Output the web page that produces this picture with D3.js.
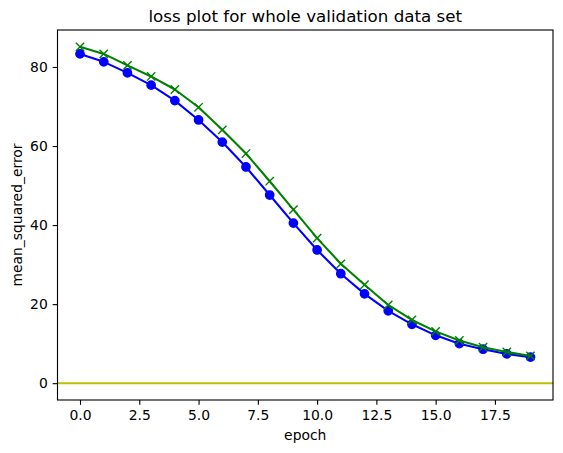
<!DOCTYPE html>
<html>
<head>
<meta charset="utf-8">
<script src="https://cdn.jsdelivr.net/npm/d3@7"></script>
<style>
  body { margin: 0; background: #fff; }
  svg { display: block; font-family: "DejaVu Sans", sans-serif; }
</style>
</head>
<body>
<div id="chart"></div>
<script>
'use strict';

// values
var epochs = d3.range(0, 20);
var blueLoss = [83.3, 81.3, 78.5, 75.4, 71.5, 66.6, 61.0, 54.7, 47.6, 40.5,
                33.7, 27.7, 22.6, 18.3, 14.9, 12.1, 10.0, 8.6, 7.4, 6.6];
var greenLoss = [85.1, 83.3, 80.4, 77.6, 74.3, 69.8, 64.1, 58.1, 51.1, 43.9,
                 36.7, 30.2, 24.9, 19.8, 16.0, 13.1, 10.8, 9.1, 7.9, 6.9];
var xTicks = [0, 2.5, 5, 7.5, 10, 12.5, 15, 17.5];
var yTicks = [0, 20, 40, 60, 80];
var hLineValue = 0;

var width = 563, height = 453;
var margin = {top: 30, right: 10, bottom: 53, left: 57.5};

var svg = d3.select("#chart").append("svg")
  .attr("width", width)
  .attr("height", height);

var plotW = width - margin.left - margin.right;
var plotH = height - margin.top - margin.bottom;

// matplotlib style 5% margins
var xExt = d3.extent(epochs);
var xPad = (xExt[1] - xExt[0]) * 0.05;
var yMin = Math.min(hLineValue, d3.min(blueLoss), d3.min(greenLoss));
var yMax = Math.max(d3.max(blueLoss), d3.max(greenLoss));
var yPad = (yMax - yMin) * 0.05;

var x = d3.scaleLinear()
  .domain([xExt[0] - xPad, xExt[1] + xPad])
  .range([0, plotW]);
var y = d3.scaleLinear()
  .domain([yMin - yPad, yMax + yPad])
  .range([plotH, 0]);

var g = svg.append("g")
  .attr("transform", "translate(" + margin.left + "," + margin.top + ")");

var defs = svg.append("defs");
defs.append("clipPath").attr("id", "clip")
  .append("rect").attr("width", plotW).attr("height", plotH);

var plot = g.append("g").attr("clip-path", "url(#clip)");

// blue series
var line = d3.line()
  .x(function(d, i) { return x(epochs[i]); })
  .y(function(d) { return y(d); });

plot.append("path")
  .datum(blueLoss)
  .attr("d", line)
  .attr("fill", "none")
  .attr("stroke", "#0000ff")
  .attr("stroke-width", 2.08)
  .attr("stroke-linejoin", "round");

plot.selectAll("circle.blue")
  .data(blueLoss)
  .enter().append("circle")
  .attr("class", "blue")
  .attr("cx", function(d, i) { return x(epochs[i]); })
  .attr("cy", function(d) { return y(d); })
  .attr("r", 4.17)
  .attr("fill", "#0000ff")
  .attr("stroke", "#0000ff")
  .attr("stroke-width", 1.39);

// green series
plot.append("path")
  .datum(greenLoss)
  .attr("d", line)
  .attr("fill", "none")
  .attr("stroke", "#008000")
  .attr("stroke-width", 2.08)
  .attr("stroke-linejoin", "round");

var s = 4.17;
plot.selectAll("path.xmark")
  .data(greenLoss)
  .enter().append("path")
  .attr("class", "xmark")
  .attr("transform", function(d, i) {
    return "translate(" + x(epochs[i]) + "," + y(d) + ")";
  })
  .attr("d", "M" + (-s) + "," + (-s) + "L" + s + "," + s +
             "M" + (-s) + "," + s + "L" + s + "," + (-s))
  .attr("stroke", "#008000")
  .attr("stroke-width", 1.39)
  .attr("fill", "none");

// horizontal line at zero
plot.append("line")
  .attr("x1", 0).attr("x2", plotW)
  .attr("y1", y(hLineValue)).attr("y2", y(hLineValue))
  .attr("stroke", "#bfbf00")
  .attr("stroke-width", 2.08);

// axes
var xAxis = d3.axisBottom(x)
  .tickValues(xTicks)
  .tickFormat(d3.format(".1f"))
  .tickSizeInner(4.86)
  .tickSizeOuter(0)
  .tickPadding(4.9);
var yAxis = d3.axisLeft(y)
  .tickValues(yTicks)
  .tickFormat(d3.format("d"))
  .tickSizeInner(4.86)
  .tickSizeOuter(0)
  .tickPadding(4.9);

var gx = g.append("g")
  .attr("transform", "translate(0," + plotH + ")")
  .call(xAxis);
var gy = g.append("g").call(yAxis);

[gx, gy].forEach(function(a) {
  a.select(".domain").remove();
  a.selectAll(".tick line").attr("stroke", "#000").attr("stroke-width", 1.11);
  a.selectAll(".tick text")
    .attr("fill", "#000")
    .style("font-size", "13.9px")
    .style("font-family", "'DejaVu Sans', sans-serif");
});

// frame
g.append("rect")
  .attr("width", plotW)
  .attr("height", plotH)
  .attr("fill", "none")
  .attr("stroke", "#000")
  .attr("stroke-width", 1.11);

// labels
g.append("text")
  .attr("x", plotW / 2)
  .attr("y", -8.3)
  .attr("text-anchor", "middle")
  .style("font-size", "16.7px")
  .text("loss plot for whole validation data set");

g.append("text")
  .attr("x", plotW / 2)
  .attr("y", plotH + 40)
  .attr("text-anchor", "middle")
  .style("font-size", "13.9px")
  .text("epoch");

g.append("text")
  .attr("transform", "translate(" + (-35.5) + "," + (plotH / 2) + ") rotate(-90)")
  .attr("text-anchor", "middle")
  .style("font-size", "13.9px")
  .text("mean_squared_error");
</script>
</body>
</html>
